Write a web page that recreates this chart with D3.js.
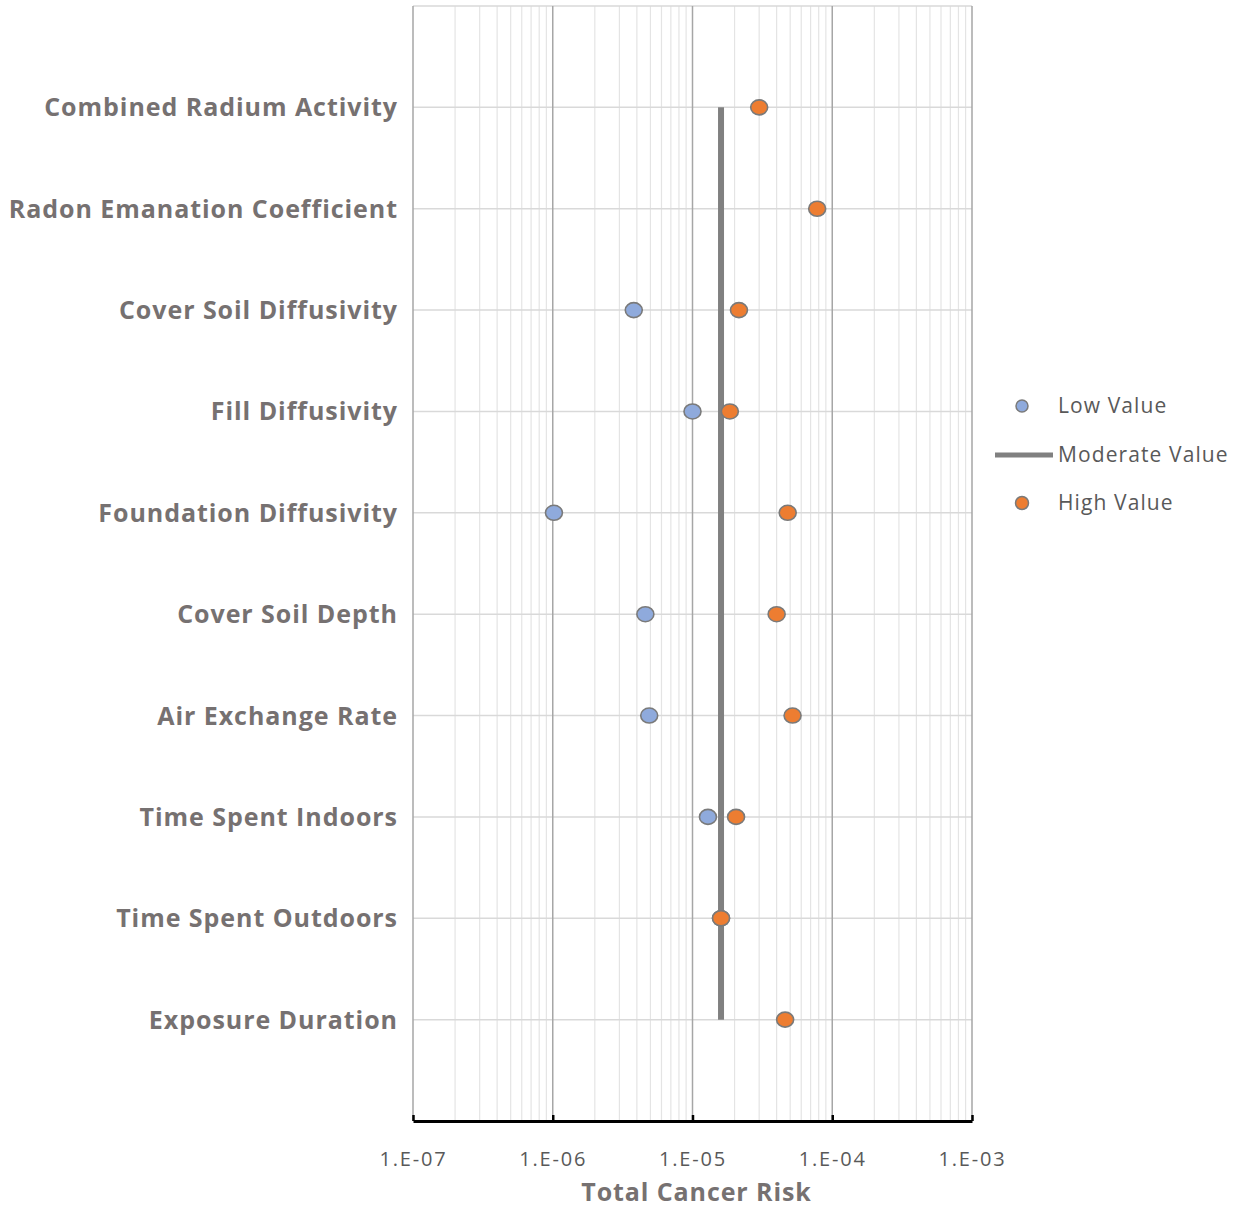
<!DOCTYPE html>
<html>
<head>
<meta charset="utf-8">
<script src="https://cdn.jsdelivr.net/npm/d3@7"></script>
<style>
  body { margin: 0; background: #fff; }
  svg { display: block; }
  .cat { font-family: "Open Sans", sans-serif; font-weight: bold; fill: #767171; }
</style>
</head>
<body>
<div id="chart"></div>
<script>
// parameters, top to bottom
const params = [
  "Combined Radium Activity",
  "Radon Emanation Coefficient",
  "Cover Soil Diffusivity",
  "Fill Diffusivity",
  "Foundation Diffusivity",
  "Cover Soil Depth",
  "Air Exchange Rate",
  "Time Spent Indoors",
  "Time Spent Outdoors",
  "Exposure Duration"
];
// risk values (null = not on chart)
const lowVals  = [null, null, 3.8e-6, 1.0e-5, 1.02e-6, 4.6e-6, 4.9e-6, 1.29e-5, 1.6e-5, null];
const highVals = [3.0e-5, 7.8e-5, 2.15e-5, 1.85e-5, 4.8e-5, 4.0e-5, 5.2e-5, 2.05e-5, 1.6e-5, 4.6e-5];
const moderateVal = 1.6e-5;
const tickVals = [1e-7, 1e-6, 1e-5, 1e-4, 1e-3];
const tickLabels = ["1.E-07", "1.E-06", "1.E-05", "1.E-04", "1.E-03"];

const W = 1240, H = 1208;
const svg = d3.select("#chart").append("svg").attr("width", W).attr("height", H);

const x = d3.scaleLog().domain([1e-7, 1e-3]).range([413, 972]);
// categories sit at 10..1, grid runs 0..11
const y = d3.scaleLinear().domain([0, 11]).range([1121, 6]);
const ypos = i => y(params.length - i);

// minor grid
const minors = [];
tickVals.slice(0, -1).forEach(t => d3.range(2, 10).forEach(k => minors.push(t * k)));
svg.append("g").selectAll("line").data(minors).enter().append("line")
  .attr("x1", d => x(d)).attr("x2", d => x(d))
  .attr("y1", y(11)).attr("y2", y(0))
  .attr("stroke", "#e4e4e4").attr("stroke-width", 1.2);

// horizontal grid
svg.append("g").selectAll("line").data(d3.range(1, 12)).enter().append("line")
  .attr("x1", x.range()[0]).attr("x2", x.range()[1])
  .attr("y1", d => y(d)).attr("y2", d => y(d))
  .attr("stroke", "#d9d9d9").attr("stroke-width", 1.5);

// major grid
svg.append("g").selectAll("line").data(tickVals).enter().append("line")
  .attr("x1", d => x(d)).attr("x2", d => x(d))
  .attr("y1", y(11)).attr("y2", y(0))
  .attr("stroke", "#a6a6a6").attr("stroke-width", 1.5);

// x axis
const xAxis = svg.append("g")
  .attr("transform", `translate(0,${y(0)})`)
  .call(d3.axisBottom(x).tickValues(tickVals)
    .tickFormat((d, i) => tickLabels[i]).tickSizeInner(-6).tickSizeOuter(0).tickPadding(31));
xAxis.select(".domain").attr("stroke", "#000").attr("stroke-width", 3);
xAxis.selectAll(".tick line").attr("stroke", "#000").attr("stroke-width", 2.5);
xAxis.selectAll(".tick text")
  .attr("font-family", "'Open Sans', sans-serif")
  .attr("font-size", 20).attr("letter-spacing", 1.8).attr("fill", "#595959");

svg.append("text")
  .attr("x", (x.range()[0] + x.range()[1]) / 2 + 4).attr("y", 1201)
  .attr("text-anchor", "middle")
  .attr("font-family", "'Open Sans', sans-serif").attr("font-weight", "bold")
  .attr("font-size", 25).attr("letter-spacing", 0.9).attr("fill", "#767171")
  .text("Total Cancer Risk");

// category labels
svg.append("g").selectAll("text").data(params).enter().append("text")
  .attr("class", "cat")
  .attr("x", 398).attr("y", (d, i) => ypos(i))
  .attr("dy", "0.36em").attr("text-anchor", "end")
  .attr("font-size", 25).attr("letter-spacing", 0.95)
  .text(d => d);

// moderate line
svg.append("line")
  .attr("x1", x(moderateVal)).attr("x2", x(moderateVal))
  .attr("y1", ypos(0)).attr("y2", ypos(params.length - 1))
  .attr("stroke", "#808080").attr("stroke-width", 6);

// markers
function dots(vals, fill) {
  svg.append("g").selectAll("ellipse")
    .data(vals.map((v, i) => [v, i]).filter(d => d[0] != null))
    .enter().append("ellipse")
    .attr("cx", d => x(d[0])).attr("cy", d => ypos(d[1]))
    .attr("rx", 8.5).attr("ry", 7.5)
    .attr("fill", fill).attr("stroke", "#7a7a7a").attr("stroke-width", 1.6);
}
dots(lowVals, "#8faadc");
dots(highVals, "#ed7d31");

// legend
const lg = svg.append("g").attr("font-family", "'Open Sans', sans-serif")
  .attr("font-size", 21).attr("letter-spacing", 1.1).attr("fill", "#595959");
lg.append("circle").attr("cx", 1022).attr("cy", 406).attr("r", 6)
  .attr("fill", "#8faadc").attr("stroke", "#7a7a7a").attr("stroke-width", 1.5);
lg.append("text").attr("x", 1058).attr("y", 406).attr("dy", "0.35em").text("Low Value");
lg.append("line").attr("x1", 995).attr("x2", 1053).attr("y1", 455).attr("y2", 455)
  .attr("stroke", "#808080").attr("stroke-width", 5);
lg.append("text").attr("x", 1058).attr("y", 455).attr("dy", "0.35em").text("Moderate Value");
lg.append("circle").attr("cx", 1022).attr("cy", 503).attr("r", 6.5)
  .attr("fill", "#ed7d31").attr("stroke", "#7a7a7a").attr("stroke-width", 1.5);
lg.append("text").attr("x", 1058).attr("y", 503).attr("dy", "0.35em").text("High Value");
</script>
</body>
</html>
